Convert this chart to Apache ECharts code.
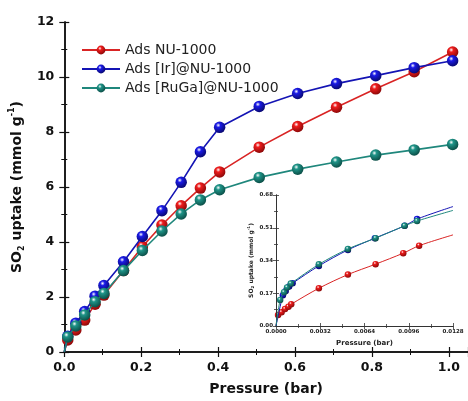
<!DOCTYPE html>
<html>
<head>
<meta charset="utf-8">
<script src="https://cdn.jsdelivr.net/npm/echarts@6/dist/echarts.min.js"></script>
<style>
html, body { margin: 0; padding: 0; background: #fff; }
#chart { width: 468px; height: 401px; }
</style>
</head>
<body>
<div id="chart"></div>
<script>
// main isotherm, pressure in bar, uptake in mmol/g
var pressure = [0, 0.009, 0.03, 0.053, 0.08, 0.103, 0.154, 0.203, 0.254, 0.304, 0.354, 0.404, 0.507, 0.607, 0.708, 0.81, 0.91, 1.01];
var adsNU = [0, 0.44, 0.8, 1.16, 1.74, 2.07, 2.96, 3.83, 4.62, 5.32, 5.96, 6.55, 7.45, 8.2, 8.9, 9.57, 10.19, 10.91];
var adsIr = [0, 0.57, 1.05, 1.47, 2.03, 2.42, 3.28, 4.2, 5.14, 6.17, 7.28, 8.17, 8.93, 9.4, 9.76, 10.05, 10.34, 10.59];
var adsRuGa = [0, 0.55, 0.95, 1.35, 1.83, 2.13, 2.96, 3.69, 4.4, 5.02, 5.53, 5.9, 6.35, 6.65, 6.91, 7.16, 7.35, 7.55];

// inset, low pressure region (first and last entries are curve ends, no marker)
var insetNUp = [0, 0.00015, 0.0004, 0.00065, 0.0009, 0.0011, 0.0031, 0.0052, 0.0072, 0.0092, 0.01035, 0.0128];
var insetNUv = [0, 0.057, 0.071, 0.088, 0.100, 0.113, 0.196, 0.267, 0.321, 0.378, 0.417, 0.473];
var insetIrP = [0, 0.0005, 0.0007, 0.00095, 0.0012, 0.0031, 0.0052, 0.00715, 0.0093, 0.0102, 0.0128];
var insetIrV = [0, 0.16, 0.182, 0.205, 0.222, 0.312, 0.395, 0.456, 0.52, 0.555, 0.62];
var insetRuP = [0, 0.0003, 0.00058, 0.0008, 0.00107, 0.0031, 0.0052, 0.0072, 0.0093, 0.0102, 0.0128];
var insetRuV = [0, 0.135, 0.175, 0.2, 0.22, 0.32, 0.40, 0.456, 0.52, 0.545, 0.60];

var names = ['Ads NU-1000', 'Ads [Ir]@NU-1000', 'Ads [RuGa]@NU-1000'];
var lineColors = ['#d92424', '#1414b4', '#1f877c'];
var ballColors = ['#ee1c1c', '#1a1ae6', '#1f9488'];
var darkColors = ['#8a0808', '#08086e', '#0b4d46'];

function ball(i) {
    return {
        type: 'radial', x: 0.38, y: 0.32, r: 0.7,
        colorStops: [
            {offset: 0, color: '#ffffff'},
            {offset: 0.28, color: ballColors[i]},
            {offset: 1, color: darkColors[i]}
        ]
    };
}

function pairs(xs, ys, endsBare) {
    var out = [];
    for (var k = 0; k < xs.length; k++) {
        var bare = (k === 0) || (endsBare && k === xs.length - 1);
        out.push(bare ? {value: [xs[k], ys[k]], symbol: 'none'} : [xs[k], ys[k]]);
    }
    return out;
}

var axisCol = '#111';
var font = 'DejaVu Sans';

var mainSeries = [adsNU, adsIr, adsRuGa].map(function (ys, i) {
    return {
        name: names[i],
        type: 'line',
        xAxisIndex: 0, yAxisIndex: 0,
        data: pairs(pressure, ys, false),
        symbol: 'circle',
        symbolSize: 11.5,
        z: 3 + i,
        lineStyle: {color: lineColors[i], width: 1.6},
        itemStyle: {color: ball(i), borderWidth: 0}
    };
});

var insetSets = [[insetNUp, insetNUv], [insetIrP, insetIrV], [insetRuP, insetRuV]];
var insetSeries = insetSets.map(function (s, i) {
    return {
        name: 'inset ' + names[i],
        type: 'line',
        xAxisIndex: 2, yAxisIndex: 2,
        data: pairs(s[0], s[1], true),
        smooth: 0.3,
        symbol: 'circle',
        symbolSize: 6.5,
        z: 20 + i,
        lineStyle: {color: lineColors[i], width: 1},
        itemStyle: {color: ball(i), borderWidth: 0}
    };
});

function frameAxis(extra) {
    var base = {
        type: 'value',
        axisLine: {show: true, lineStyle: {color: axisCol, width: 1.5}},
        axisTick: {show: true, inside: true, length: 5, lineStyle: {color: axisCol, width: 1.2}},
        minorTick: {show: true, splitNumber: 2, length: 3, lineStyle: {color: axisCol, width: 1}},
        splitLine: {show: false},
        axisLabel: {show: false}
    };
    for (var k in extra) base[k] = extra[k];
    return base;
}

function insetAxis(extra) {
    var base = frameAxis({
        gridIndex: 1, z: 21,
        axisLine: {show: true, lineStyle: {color: '#333', width: 1}},
        axisTick: {show: true, inside: true, length: 3, lineStyle: {color: '#333', width: 0.8}},
        minorTick: {show: true, splitNumber: 2, length: 2, lineStyle: {color: '#333', width: 0.8}}
    });
    for (var k in extra) base[k] = extra[k];
    return base;
}

var myChart = echarts.init(document.getElementById('chart'));
var option = {
    backgroundColor: '#fff',
    animation: false,
    legend: {
        data: names,
        orient: 'vertical',
        left: 76,
        top: 38,
        itemWidth: 38,
        itemHeight: 11,
        itemGap: 5,
        textStyle: {fontFamily: font, fontSize: 14, color: '#222'}
    },
    grid: [
        {left: 63, top: 22, right: -3, bottom: 47},
        {left: 276, top: 195, width: 177, height: 131, show: true, backgroundColor: '#fff', borderWidth: 0, z: 10}
    ],
    xAxis: [
        frameAxis({
            gridIndex: 0, min: 0, max: 1.05, interval: 0.2, position: 'bottom',
            name: 'Pressure (bar)', nameLocation: 'middle', nameGap: 30,
            nameTextStyle: {fontFamily: font, fontWeight: 'bold', fontSize: 14, color: '#111'},
            axisLabel: {
                show: true, showMaxLabel: false, margin: 9,
                fontFamily: font, fontWeight: 'bold', fontSize: 12.5, color: '#111',
                formatter: function (v) { return v > 1.001 ? '' : v.toFixed(1); }
            }
        }),
        frameAxis({gridIndex: 0, min: 0, max: 1.05, interval: 0.2, position: 'top'}),
        insetAxis({
            min: 0, max: 0.0128, interval: 0.0032, position: 'bottom',
            name: 'Pressure (bar)', nameLocation: 'middle', nameGap: 14,
            nameTextStyle: {fontFamily: font, fontWeight: 'bold', fontSize: 7, color: '#222'},
            axisLabel: {
                show: true, margin: 3,
                fontFamily: font, fontWeight: 'bold', fontSize: 5.5, color: '#222',
                formatter: function (v) { return v.toFixed(4); }
            }
        }),
        insetAxis({min: 0, max: 0.0128, interval: 0.0032, position: 'top'})
    ],
    yAxis: [
        frameAxis({
            gridIndex: 0, min: 0, max: 12, interval: 2, position: 'left',
            name: '{b|SO}{s|2}{b| uptake (mmol g}{p|-1}{b|)}',
            nameLocation: 'middle', nameGap: 36, nameRotate: 90,
            nameTextStyle: {
                rich: {
                    b: {fontFamily: font, fontWeight: 'bold', fontSize: 14, color: '#111', lineHeight: 18},
                    s: {fontFamily: font, fontWeight: 'bold', fontSize: 8, color: '#111', verticalAlign: 'bottom', lineHeight: 12},
                    p: {fontFamily: font, fontWeight: 'bold', fontSize: 8, color: '#111', verticalAlign: 'top', lineHeight: 12}
                }
            },
            axisLabel: {
                show: true, margin: 10,
                fontFamily: font, fontWeight: 'bold', fontSize: 12.5, color: '#111'
            }
        }),
        frameAxis({gridIndex: 0, min: 0, max: 12, interval: 2, position: 'right'}),
        insetAxis({
            min: 0, max: 0.68, interval: 0.17, position: 'left',
            name: '{b|SO}{s|2}{b| uptake (mmol g}{p|-1}{b|)}',
            nameLocation: 'middle', nameGap: 21, nameRotate: 90,
            nameTextStyle: {
                rich: {
                    b: {fontFamily: font, fontWeight: 'bold', fontSize: 6, color: '#222', lineHeight: 8},
                    s: {fontFamily: font, fontWeight: 'bold', fontSize: 4, color: '#222', verticalAlign: 'bottom', lineHeight: 6},
                    p: {fontFamily: font, fontWeight: 'bold', fontSize: 4, color: '#222', verticalAlign: 'top', lineHeight: 6}
                }
            },
            axisLabel: {
                show: true, margin: 3,
                fontFamily: font, fontWeight: 'bold', fontSize: 5.5, color: '#222',
                formatter: function (v) { return v.toFixed(2); }
            }
        }),
        insetAxis({min: 0, max: 0.68, interval: 0.17, position: 'right'})
    ],
    series: mainSeries.concat(insetSeries)
};

myChart.setOption(option);
</script>
</body>
</html>
